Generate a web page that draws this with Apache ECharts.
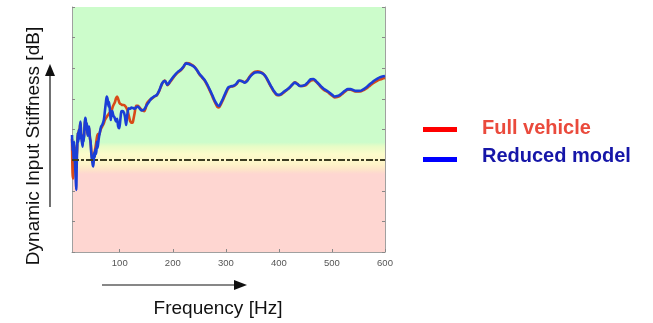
<!DOCTYPE html>
<html>
<head>
<meta charset="utf-8">
<script src="https://cdn.jsdelivr.net/npm/echarts@6/dist/echarts.min.js"></script>
<style>html,body{margin:0;padding:0;background:#fff;}#c{width:653px;height:323px;}</style>
</head>
<body>
<div id="c"></div>
<script>
// Frequency [Hz] and stiffness (axis units 0..8, unlabeled)
var fullFreq = [10,11,12,13,14,15,16,17,18,19,20,21,22,23,24,25,26,27,28,30,31,32,34,35,36,37,38,39,40,41,42,43,44,45,46,47,48,49,50,51,52,53,55,57,59,61,64,67,70,72,75,78,81,84,87,91,93,95,97,100,103,105,108,111,114,116,118,120,122,124,126,128,131,134,136,139,142,146,149,151,156,160,165,170,175,180,185,190,195,200,205,210,215,220,225,230,235,240,245,250,255,260,265,270,275,280,284,287,291,295,300,305,310,315,320,325,330,335,340,345,350,355,360,365,370,375,380,385,390,395,400,405,410,415,420,425,430,435,440,445,450,455,460,465,470,475,480,485,490,495,500,505,510,515,520,525,530,535,540,545,550,555,560,565,570,575,580,585,590,595,600];
var fullVal = [3.7,2.6,2.4,3.4,3.5,3.3,3.4,3.1,3.3,3.1,3.6,3.9,3.7,4.0,3.8,4.1,4.2,3.9,3.75,3.5,3.8,3.65,4.15,4.3,4.25,4.05,4.15,3.9,3.85,4.0,4.05,3.9,3.7,3.6,3.4,3.2,3.05,2.95,2.9,3.05,3.2,3.3,3.5,3.75,3.85,3.82,4.0,4.1,4.2,4.31,4.4,4.48,4.55,4.59,4.75,4.9,5.02,5.08,5.0,4.85,4.82,4.8,4.8,4.75,4.65,4.53,4.38,4.26,4.22,4.22,4.35,4.53,4.77,4.77,4.75,4.68,4.63,4.6,4.7,4.85,4.96,5.0,5.07,5.12,5.28,5.5,5.6,5.45,5.55,5.67,5.78,5.87,5.93,6.03,6.17,6.16,6.12,6.06,5.95,5.8,5.7,5.6,5.44,5.26,5.06,4.87,4.74,4.72,4.84,4.98,5.18,5.35,5.4,5.42,5.48,5.59,5.58,5.54,5.6,5.73,5.83,5.89,5.9,5.88,5.83,5.72,5.56,5.4,5.25,5.14,5.12,5.15,5.22,5.29,5.36,5.46,5.54,5.49,5.42,5.42,5.44,5.52,5.6,5.62,5.56,5.47,5.37,5.29,5.24,5.18,5.11,5.05,5.06,5.1,5.17,5.24,5.3,5.3,5.27,5.24,5.24,5.25,5.29,5.34,5.41,5.48,5.54,5.59,5.63,5.66,5.68];

var redFreq = [10,11,12,13,14,15,16,17,18,19,20,21,22,23,24,25,26,27,28,30,31,32,34,35,36,37,38,39,40,41,42,43,44,45,46,47,48,49,50,51,52,53,54,55,56,57,58,59,61,63,65,67,70,72,74,75.5,77,79,80,82,83,84,86,87,88,90,92,93,95,97,99,101,103,105,108,110,112,114,117,120,122,125,128,131,134,137,141,144,147,151,155,160,165,170,175,180,185,190,195,200,205,210,215,220,225,230,235,240,245,250,255,260,265,270,275,280,284,287,291,295,300,305,310,315,320,325,330,335,340,345,350,355,360,365,370,375,380,385,390,395,400,405,410,415,420,425,430,435,440,445,450,455,460,465,470,475,480,485,490,495,500,505,510,515,520,525,530,535,540,545,550,555,560,565,570,575,580,585,590,595,600];
var reducedVal = [3.82,3.3,3.5,3.0,3.6,3.2,2.8,2.4,2.03,2.9,3.5,3.9,3.6,4.0,3.7,4.1,4.26,3.9,3.7,3.44,3.8,3.6,4.2,4.38,4.3,4.0,4.2,3.9,3.8,4.05,4.1,3.9,3.7,3.6,3.3,3.1,3.0,2.85,2.79,3.0,3.25,3.1,3.35,3.2,3.3,3.6,3.4,3.5,3.77,3.95,4.1,4.15,4.31,4.6,4.9,5.08,5.0,4.75,4.9,4.5,4.31,4.45,4.6,4.59,4.45,4.4,4.3,4.26,4.35,4.1,4.04,4.3,4.59,4.6,4.55,4.4,4.15,4.45,4.69,4.68,4.72,4.7,4.68,4.72,4.75,4.7,4.62,4.63,4.68,4.8,4.9,5.02,5.08,5.13,5.3,5.51,5.59,5.46,5.58,5.70,5.8,5.89,5.95,6.05,6.16,6.14,6.1,6.05,5.95,5.82,5.72,5.62,5.47,5.29,5.1,4.91,4.8,4.77,4.88,5.02,5.22,5.38,5.41,5.43,5.5,5.60,5.58,5.53,5.58,5.71,5.8,5.86,5.87,5.86,5.82,5.73,5.58,5.42,5.27,5.16,5.13,5.17,5.24,5.3,5.37,5.46,5.53,5.48,5.42,5.43,5.46,5.55,5.64,5.65,5.58,5.49,5.4,5.32,5.27,5.21,5.14,5.08,5.09,5.13,5.2,5.27,5.32,5.32,5.29,5.26,5.26,5.27,5.32,5.38,5.46,5.53,5.6,5.65,5.7,5.73,5.75];

var xTickLabels = [100,200,300,400,500,600];
var thresholdLevel = [3];
var seriesNames = ['Full vehicle','Reduced model'];

function pairs(xs, ys){ var out=[]; for(var i=0;i<xs.length;i++){ out.push([xs[i], ys[i]]); } return out; }

var chart = echarts.init(document.getElementById('c'), null, {renderer:'canvas'});
var bandGrad = new echarts.graphic.LinearGradient(0,0,0,1,[
  {offset:0, color:'#ccfccb'},
  {offset:0.552, color:'#ccfccb'},
  {offset:0.568, color:'#e6fcc6'},
  {offset:0.60, color:'#fcfccb'},
  {offset:0.64, color:'#fef4c8'},
  {offset:0.665, color:'#fde3c9'},
  {offset:0.682, color:'#fed6d1'},
  {offset:1, color:'#fed6d1'}
]);
var axisCol = '#a0a0a0';
chart.setOption({
  animation:false,
  backgroundColor:'#ffffff',
  grid:{left:72, right:268, top:7, bottom:71, containLabel:false},
  xAxis:{type:'value', min:10, max:600,
    splitLine:{show:false},
    axisLine:{show:true, onZero:false, lineStyle:{color:axisCol, width:1}},
    axisTick:{show:true, inside:true, length:3, customValues:xTickLabels, lineStyle:{color:'#888'}},
    axisLabel:{show:true, customValues:xTickLabels, color:'#555', fontSize:9.5, fontFamily:'Liberation Sans', margin:6}
  },
  yAxis:[
    {type:'value', min:0, max:8, interval:1, position:'left',
      splitLine:{show:false},
      axisLine:{show:true, lineStyle:{color:axisCol}},
      axisTick:{show:true, inside:true, length:3, lineStyle:{color:'#888'}},
      axisLabel:{show:false}},
    {type:'value', min:0, max:8, interval:1, position:'right',
      splitLine:{show:false},
      axisLine:{show:true, lineStyle:{color:axisCol}},
      axisTick:{show:true, inside:true, length:3, lineStyle:{color:'#888'}},
      axisLabel:{show:false}}
  ],
  series:[
    {name:seriesNames[0], type:'line', data:pairs(fullFreq, fullVal), showSymbol:false, smooth:0.3,
      lineStyle:{color:'#d84a18', width:2.6}, itemStyle:{color:'#d84a18'}, z:3,
      markArea:{silent:true, itemStyle:{color:bandGrad}, data:[[{yAxis:0},{yAxis:8}]], z:0},
      markLine:{silent:true, symbol:'none', label:{show:false},
        lineStyle:{color:'#3c3c22', width:2, type:[7,2,3,2]},
        data:[{yAxis:thresholdLevel[0]}]}
    },
    {name:seriesNames[1], type:'line', data:pairs(redFreq, reducedVal), showSymbol:false, smooth:0.3,
      lineStyle:{color:'#1a3ed6', width:2.6}, itemStyle:{color:'#1a3ed6'}, z:4}
  ],
  graphic:[
    {type:'text', x:34, y:146, rotation:Math.PI/2, style:{text:'Dynamic Input Stiffness [dB]', font:'19px "Liberation Sans"', fill:'#111', align:'center', verticalAlign:'middle'}},
    {type:'line', shape:{x1:50, y1:207, x2:50, y2:74}, style:{stroke:'#111', lineWidth:1.2}},
    {type:'polygon', shape:{points:[[50,64],[45,76],[55,76]]}, style:{fill:'#111'}},
    {type:'line', shape:{x1:102, y1:285, x2:236, y2:285}, style:{stroke:'#111', lineWidth:1.2}},
    {type:'polygon', shape:{points:[[247,285],[234,280],[234,290]]}, style:{fill:'#111'}},
    {type:'text', x:218, y:309, style:{text:'Frequency [Hz]', font:'19px "Liberation Sans"', fill:'#111', align:'center', verticalAlign:'middle'}},
    {type:'rect', shape:{x:423, y:127, width:34, height:5}, style:{fill:'#ff0000'}},
    {type:'rect', shape:{x:423, y:157, width:34, height:5}, style:{fill:'#0000ff'}},
    {type:'text', x:482, y:128, style:{text:seriesNames[0], font:'bold 20px "Liberation Sans"', fill:'#ea4a3c', align:'left', verticalAlign:'middle'}},
    {type:'text', x:482, y:156, style:{text:seriesNames[1], font:'bold 20px "Liberation Sans"', fill:'#1616a8', align:'left', verticalAlign:'middle'}}
  ]
});
</script>
</body>
</html>
